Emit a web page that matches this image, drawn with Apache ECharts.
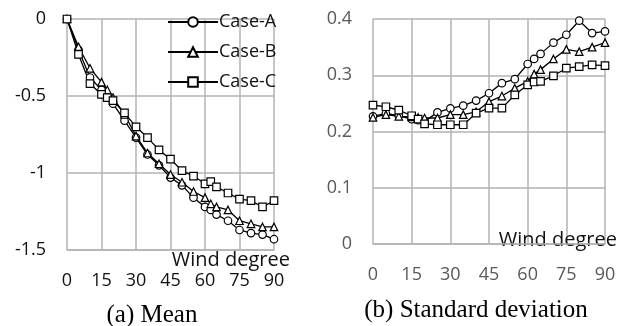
<!DOCTYPE html>
<html>
<head>
<meta charset="utf-8">
<script src="https://cdn.jsdelivr.net/npm/echarts@6/dist/echarts.min.js"></script>
<style>
  html, body { margin: 0; padding: 0; background: #fff; }
  #chart { width: 620px; height: 326px; }
</style>
</head>
<body>
<div id="chart"></div>
<script>
// wind angles (deg)
const degrees = [0, 5, 10, 15, 17.5, 20, 25, 30, 35, 40, 45, 50, 55, 60, 62.5, 65, 70, 75, 80, 85, 90]

// (a) mean
const meanA = [0, -0.20, -0.38, -0.46, -0.50, -0.55, -0.66, -0.77, -0.88, -0.95, -1.03, -1.08, -1.16, -1.22, -1.24, -1.27, -1.31, -1.37, -1.39, -1.40, -1.43]
const meanB = [0, -0.18, -0.32, -0.41, -0.46, -0.51, -0.62, -0.76, -0.87, -0.94, -1.01, -1.06, -1.12, -1.16, -1.20, -1.22, -1.24, -1.31, -1.33, -1.35, -1.35]
const meanC = [0, -0.23, -0.42, -0.49, -0.51, -0.53, -0.61, -0.70, -0.77, -0.85, -0.91, -0.985, -1.02, -1.07, -1.056, -1.09, -1.13, -1.17, -1.18, -1.22, -1.18]

// (b) standard deviation
const stdA = [0.227, 0.232, 0.228, 0.222, 0.220, 0.218, 0.234, 0.241, 0.246, 0.255, 0.268, 0.286, 0.293, 0.320, 0.329, 0.338, 0.358, 0.372, 0.397, 0.375, 0.378]
const stdB = [0.225, 0.230, 0.227, 0.226, 0.225, 0.224, 0.224, 0.230, 0.230, 0.235, 0.253, 0.263, 0.277, 0.289, 0.302, 0.310, 0.329, 0.346, 0.342, 0.350, 0.358]
const stdC = [0.247, 0.244, 0.238, 0.228, 0.222, 0.2135, 0.212, 0.212, 0.212, 0.2325, 0.2415, 0.2415, 0.265, 0.283, 0.288, 0.289, 0.299, 0.3125, 0.3155, 0.3185, 0.317]

const caseNames = ['Case-A', 'Case-B', 'Case-C']
const symbols = ['circle', 'triangle', 'rect']

const tickFont = 'Open Sans'
const gridColor = '#b3b3b3'

const chart = echarts.init(document.getElementById('chart'))

const pairs = (ys) => degrees.map((d, i) => [d, ys[i]])

const makeSeries = (data, idx, axisIdx) => ({
  name: caseNames[idx],
  type: 'line',
  xAxisIndex: axisIdx,
  yAxisIndex: axisIdx,
  data: pairs(data),
  symbol: symbols[idx],
  symbolSize: 7.5,
  showAllSymbol: true,
  lineStyle: { color: '#000', width: 1.3 },
  itemStyle: { color: '#fff', borderColor: '#000', borderWidth: 1.2 },
  emphasis: { disabled: true },
  animation: false,
})

// "Wind degree" sits below the axis on (a) and on the axis line on (b)
const xAxisBase = (labelColor, nameOffset, vAlign, lineH) => ({
  type: 'value',
  min: 0,
  max: 90,
  interval: 15,
  name: 'Wind degree',
  nameLocation: 'end',
  nameGap: nameOffset,
  nameTextStyle: {
    color: '#111',
    fontFamily: tickFont,
    fontSize: 20,
    align: 'right',
    verticalAlign: vAlign,
    lineHeight: lineH,
  },
  axisLine: { show: true, onZero: false, lineStyle: { color: gridColor, width: 1.5 } },
  axisTick: { show: false },
  axisLabel: { color: labelColor, fontFamily: tickFont, fontSize: 18, margin: 22 },
  splitLine: { show: true, lineStyle: { color: gridColor, width: 1.5 } },
})

const yAxisBase = (min, max, interval, labelColor) => ({
  type: 'value',
  min: min,
  max: max,
  interval: interval,
  axisLine: { show: false },
  axisTick: { show: false },
  axisLabel: { color: labelColor, fontFamily: tickFont, fontSize: 18, margin: 21 },
  splitLine: { show: true, lineStyle: { color: gridColor, width: 1.5 } },
})

const option = {
  backgroundColor: '#fff',
  animation: false,
  grid: [
    { left: 67, right: 346, top: 19, bottom: 76 },
    { left: 373, right: 15, top: 19, bottom: 82 },
  ],
  xAxis: [
    { ...xAxisBase('#111', 16, 'top', 20), gridIndex: 0 },
    { ...xAxisBase('#595959', 12, 'bottom', 8), gridIndex: 1 },
  ],
  yAxis: [
    { ...yAxisBase(-1.5, 0, 0.5, '#111'), gridIndex: 0 },
    { ...yAxisBase(0, 0.4, 0.1, '#595959'), gridIndex: 1 },
  ],
  legend: {
    data: caseNames,
    orient: 'vertical',
    left: 162,
    top: 8,
    itemWidth: 50,
    itemHeight: 12,
    itemGap: 12,
    textStyle: { color: '#111', fontFamily: tickFont, fontSize: 18, padding: [0, 0, 0, -4] },
    selectedMode: false,
  },
  title: [
    {
      text: '(a) Mean',
      left: 147,
      top: 298,
      textAlign: 'center',
      textStyle: { fontFamily: 'Liberation Serif', fontSize: 25, fontWeight: 'normal', color: '#000' },
    },
    {
      text: '(b) Standard deviation',
      left: 471,
      top: 293,
      textAlign: 'center',
      textStyle: { fontFamily: 'Liberation Serif', fontSize: 25, fontWeight: 'normal', color: '#000' },
    },
  ],
  series: [
    makeSeries(meanA, 0, 0),
    makeSeries(meanB, 1, 0),
    makeSeries(meanC, 2, 0),
    makeSeries(stdA, 0, 1),
    makeSeries(stdB, 1, 1),
    makeSeries(stdC, 2, 1),
  ],
}

chart.setOption(option)
</script>
</body>
</html>
